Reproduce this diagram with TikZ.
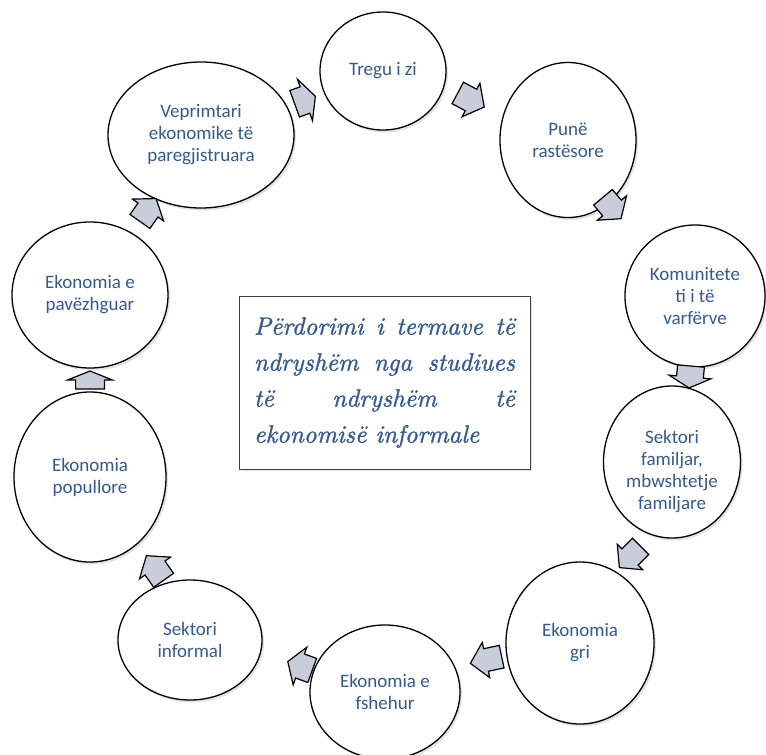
\documentclass[tikz,border=0pt]{standalone}
\usepackage{fontspec}
\newfontfamily\calib{Carlito}
\newfontfamily\cambr[FakeBold=1.2]{lmroman10-italic.otf}
\usetikzlibrary{shapes.geometric,shadows}
\definecolor{txtblue}{RGB}{52,90,142}
\definecolor{arrfill}{RGB}{200,205,218}
\newcommand\blkarrow[5]{%
  \draw[arr, shift={(#1,#2)}, rotate=#3]
    (-#4/2,-0.32*#5) -- (0,-0.32*#5) -- (0,-#5/2) -- (#4/2,0)
    -- (0,#5/2) -- (0,0.32*#5) -- (-#4/2,0.32*#5) -- cycle;}
\begin{document}
\begin{tikzpicture}[x=1pt,y=-1pt,
  bubble/.style={ellipse, draw=black, line width=1.3pt, fill=white,
    inner sep=0pt, align=center, font=\calib\fontsize{19}{22}\selectfont,
    text=txtblue,
    drop shadow={opacity=0.22, shadow xshift=2pt, shadow yshift=-2.5pt}},
  bubbletext/.style={align=center, font=\calib\fontsize{19}{22}\selectfont,
    text=txtblue, inner sep=0pt},
  arr/.style={draw=black, line width=1.2pt, fill=arrfill, line join=miter},
  centerbox/.style={draw=black!75, line width=0.9pt, fill=white, inner sep=0pt,
    minimum width=291pt, minimum height=173pt,
    drop shadow={opacity=0.2, shadow xshift=1.5pt, shadow yshift=-1.5pt}}]
\useasboundingbox (0,0) rectangle (766,755);
\fill[white] (0,0) rectangle (766,755);

\node[bubble, minimum width=126pt, minimum height=118pt] (tregu) at (383,71) {Tregu i zi};
\node[bubble, minimum width=136pt, minimum height=155pt] (pune) at (568,140) {Punë\\rastësore};
\node[bubble, minimum width=140pt, minimum height=142pt] (komun) at (695,296) {Komunitete\\ti i të\\varfërve};
\node[bubble, minimum width=137pt, minimum height=152pt] (sektfam) at (672,462) {};
\node[bubbletext] (sektfamtxt) at (672,472) {Sektori\\familjar,\\mbwshtetje\\familjare};
\node[bubble, minimum width=148pt, minimum height=162pt] (gri) at (580,643) {Ekonomia\\gri};
\node[bubble, minimum width=150pt, minimum height=134pt] (fsheh) at (385,692) {Ekonomia e\\fshehur};
\node[bubble, minimum width=144pt, minimum height=120pt] (sektinf) at (190,640) {Sektori\\informal};
\node[bubble, minimum width=152pt, minimum height=170pt] (popull) at (90,477) {Ekonomia\\popullore};
\node[bubble, minimum width=156pt, minimum height=146pt] (pavez) at (90,295) {Ekonomia e\\pavëzhguar};
\node[bubble, minimum width=186pt, minimum height=146pt] (veprim) at (201,135) {Veprimtari\\ekonomike të\\paregjistruara};

\node[centerbox] (center) at (384.5,382.5) {%
  \begin{minipage}{261pt}\cambr\fontsize{25}{36}\selectfont\color{txtblue}%
  \makebox[\linewidth][s]{Përdorimi i termave të}\par
  \makebox[\linewidth][s]{ndryshëm nga studiues}\par
  \makebox[\linewidth][s]{të ndryshëm të}\par
  ekonomisë informale
  \end{minipage}};

\blkarrow{305}{100}{20}{22}{44}
\blkarrow{471}{100}{-28}{30}{38}
\blkarrow{612}{208}{-50}{28}{38}
\blkarrow{690}{377}{-95}{22}{42}
\blkarrow{630}{557}{-135}{30}{36}
\blkarrow{486}{660}{-168}{32}{36}
\blkarrow{300}{666}{160}{26}{40}
\blkarrow{155}{568}{125}{30}{38}
\blkarrow{90}{380}{90}{18}{45}
\blkarrow{148}{210}{55}{28}{38}
\end{tikzpicture}
\end{document}
